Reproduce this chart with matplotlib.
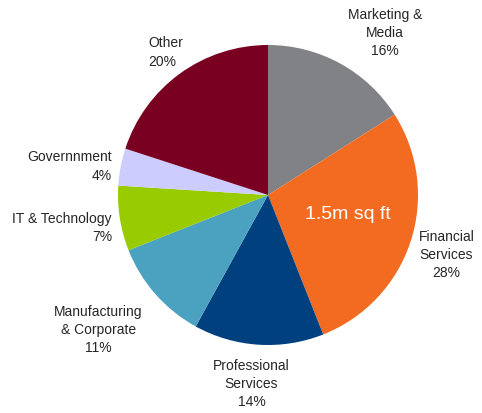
import matplotlib.pyplot as plt

plt.rcParams['font.family'] = ['Liberation Sans', 'DejaVu Sans']

sectors = ['Marketing &\nMedia', 'Financial\nServices', 'Professional\nServices',
           'Manufacturing\n& Corporate', 'IT & Technology', 'Governnment', 'Other']
shares = [16, 28, 14, 11, 7, 4, 20]
colours = ['#808285', '#F26B21', '#00407F', '#4BA2C0', '#99CC00', '#CCCCFF', '#7A0021']

# label spots (data units, radius = 1) and alignment
label_xy = [(0.78, 1.08), (1.19, -0.40), (-0.11, -1.26), (-1.13, -0.90),
            (-1.04, -0.22), (-1.04, 0.19), (-0.80, 0.95)]
label_ha = ['center', 'center', 'center', 'center', 'right', 'right', 'left']

fig = plt.figure(figsize=(4.82, 4.13), dpi=100)
ax = fig.add_axes([118 / 482, 68 / 413, 300 / 482, 300 / 413])
ax.pie(shares, colors=colours, startangle=90, counterclock=False, radius=1)
ax.set_xlim(-1, 1)
ax.set_ylim(-1, 1)
ax.set_aspect('equal')
ax.axis('off')

for name, val, (x, y), ha in zip(sectors, shares, label_xy, label_ha):
    ax.text(x, y, name + '\n' + str(val) + '%', ha=ha, va='center', multialignment=ha,
            fontsize=10, color='#262626', clip_on=False, linespacing=1.4)

ax.text(0.53, -0.13, '1.5m sq ft', ha='center', va='center', fontsize=14, color='white')

fig.savefig('out.png', dpi=100)
